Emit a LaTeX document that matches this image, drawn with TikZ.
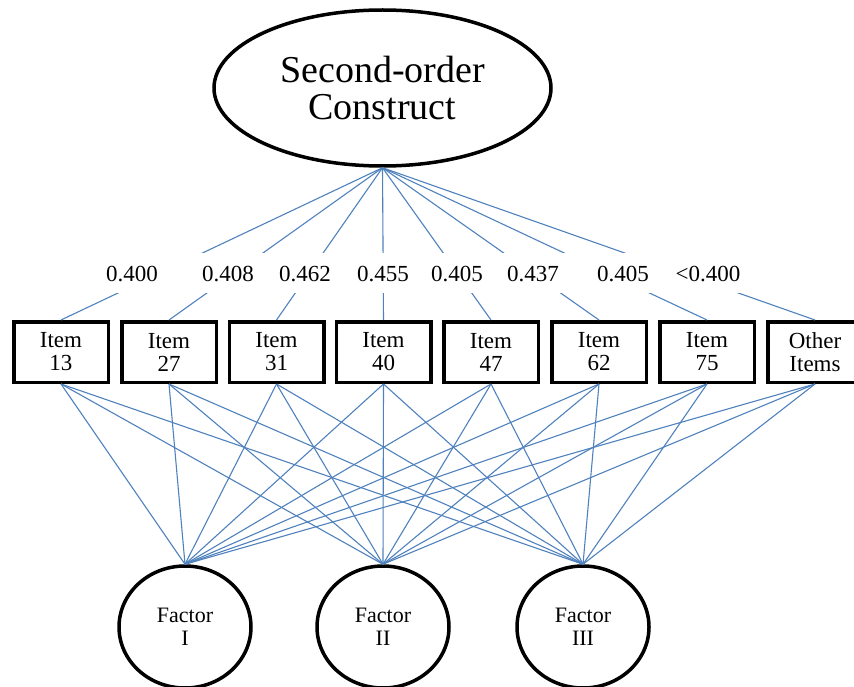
\documentclass[tikz,border=0pt]{standalone}
\usepackage{fontspec}
\setmainfont{Liberation Serif}
\usetikzlibrary{shapes.geometric}
\definecolor{pathBlue}{RGB}{79,129,189}
\begin{document}
\begin{tikzpicture}
[x=1pt,y=-1pt,
  lineDecorate/.style={-,line width=1.1pt,draw=pathBlue},%
  constructDecorate/.style={shape=ellipse,draw,line width=3.5pt,inner sep=0pt,
    minimum width=337pt,minimum height=156pt,align=center,
    font=\fontsize{38}{37}\selectfont},%
  itemDecorate/.style={shape=rectangle,draw,line width=3.5pt,inner sep=0pt,
    minimum width=94.5pt,minimum height=60.5pt,align=center,
    font=\fontsize{23}{23}\selectfont},%
  factorDecorate/.style={shape=ellipse,draw,line width=3.5pt,inner sep=0pt,
    minimum width=132pt,minimum height=122pt,align=center,
    font=\fontsize{22}{23}\selectfont},%
  loadDecorate/.style={inner sep=0pt,font=\fontsize{23}{23}\selectfont}]
\useasboundingbox (0,0) rectangle (854,687);
%% second-order construct
\node (construct) at (382.5,88) [constructDecorate] {Second-order\\Construct};
%% items
\foreach \nodename/\x/\itemtext in {
  i13/61/{Item\\13}, i27/169/{Item\\27}, i31/276.5/{Item\\31},
  i40/383.5/{Item\\40}, i47/491/{Item\\47}, i62/599/{Item\\62},
  i75/707/{Item\\75}, iOther/815/{Other\\Items}}
{
  \node (\nodename) at (\x,352) [itemDecorate] {\itemtext};
}
%% factors
\foreach \nodename/\x/\factortext in {
  fI/185/{Factor\\I}, fII/383/{Factor\\II}, fIII/583/{Factor\\III}}
{
  \node (\nodename) at (\x,627) [factorDecorate] {\factortext};
}
%% loadings on the second-order construct
\path
\foreach \endnode in {i13,i27,i31,i40,i47,i62,i75,iOther}
{
  (construct.south) edge[lineDecorate] (\endnode.north)
};
\fill[white] (82,253) rectangle (760,293);
\foreach \nodename/\x/\loadtext in {
  l13/132/0.400, l27/228/0.408, l31/305/0.462, l40/383/0.455,
  l47/457/0.405, l62/533/0.437, l75/623/0.405, lOther/708/{<0.400}}
{
  \node (\nodename) at (\x,274) [loadDecorate] {\loadtext};
}
%% items on the first-order factors
\path
\foreach \startnode in {i13,i27,i31,i40,i47,i62,i75,iOther}
{
  \foreach \endnode in {fI,fII,fIII}
  {
    (\startnode.south) edge[lineDecorate] (\endnode.north)
  }
};
\end{tikzpicture}
\end{document}
